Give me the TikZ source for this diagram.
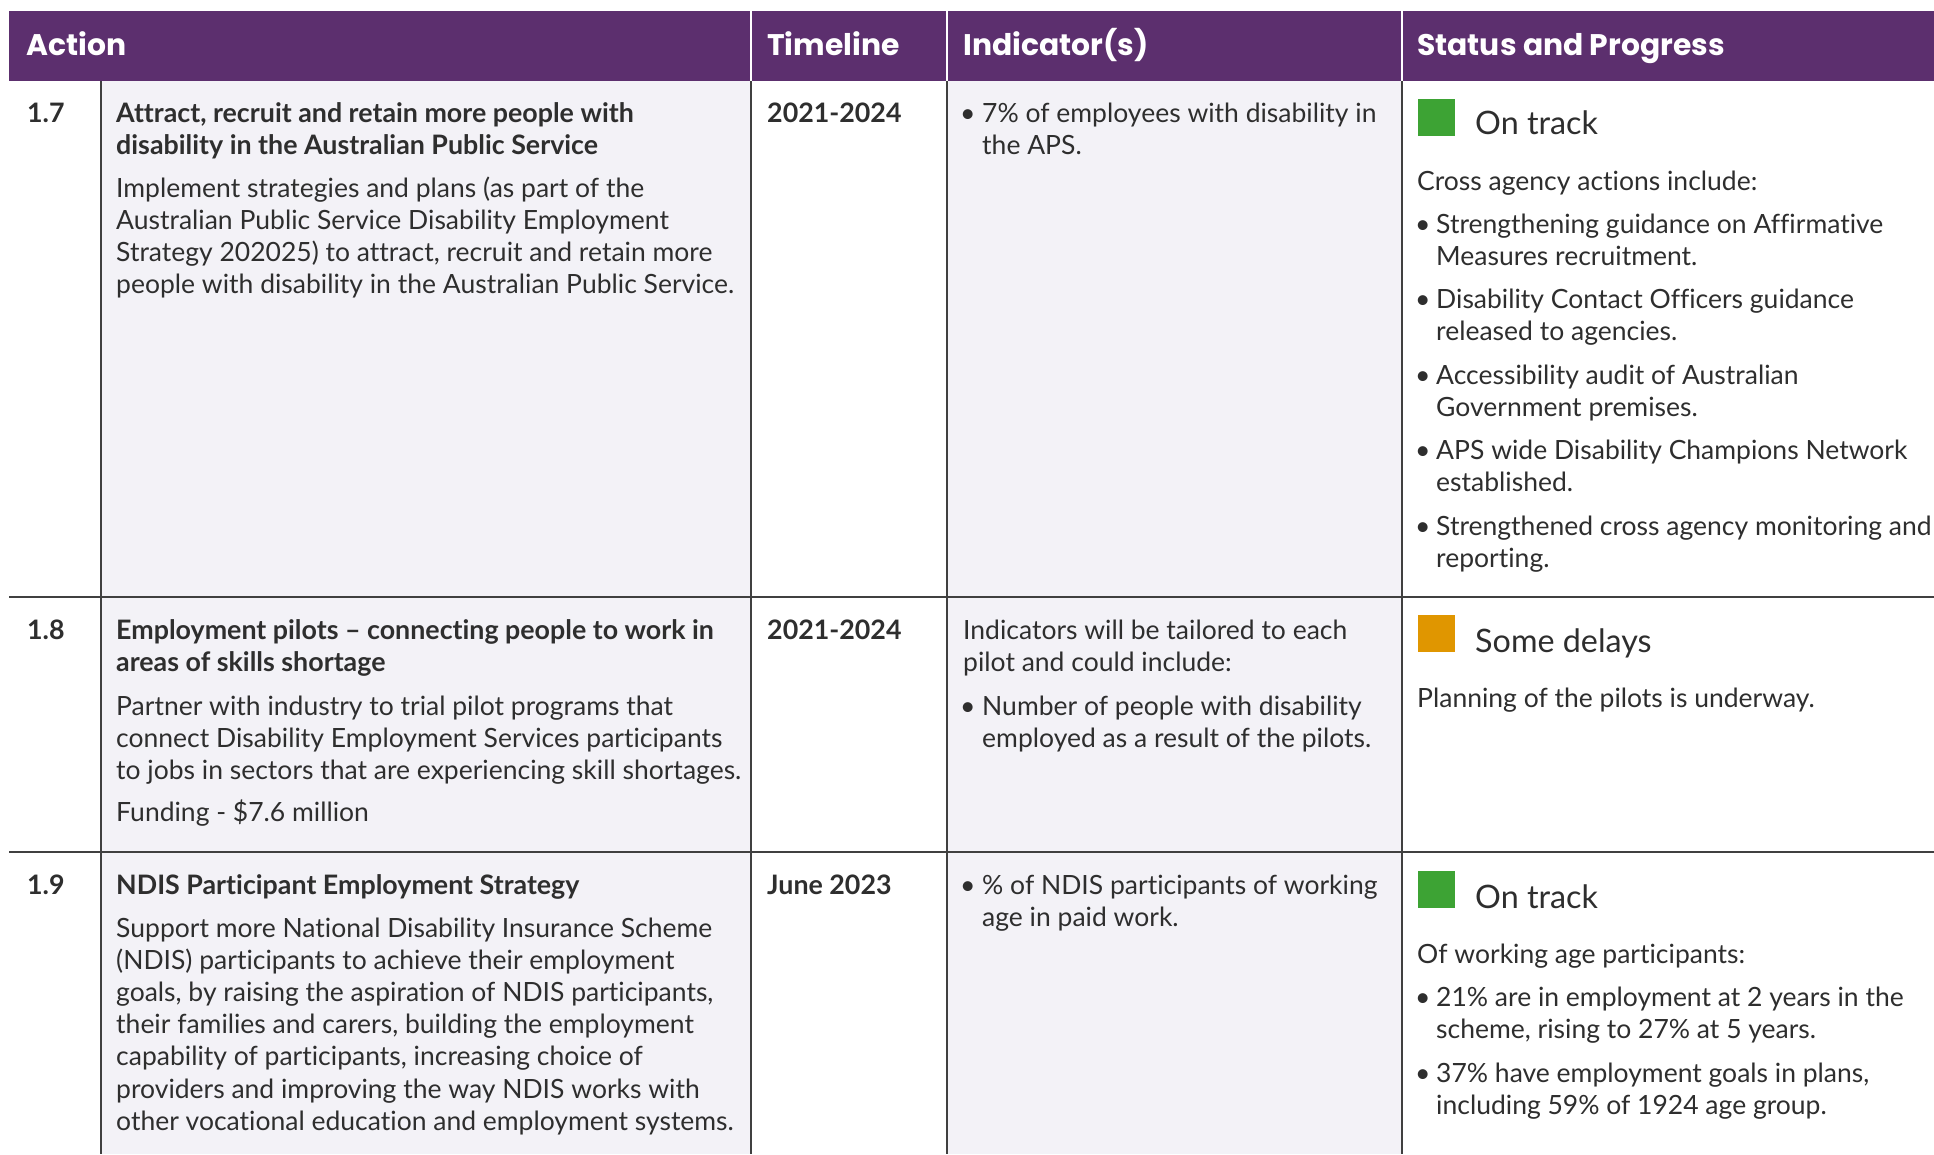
\documentclass[tikz,border=0pt]{standalone}
\usepackage{fontspec}
\setmainfont{Lato}[Ligatures=NoCommon]
\newfontfamily\headfont{Poppins}
\definecolor{hdr}{HTML}{5C2F6E}
\definecolor{cellshade}{HTML}{F3F2F7}
\definecolor{ink}{HTML}{2E2E2E}
\definecolor{rule}{HTML}{404040}
\definecolor{ongreen}{HTML}{3DA334}
\definecolor{delay}{HTML}{E09600}
\tikzset{
  txt/.style={font=\fontsize{26.5}{32}\selectfont, text=ink, inner sep=0pt, anchor=base west},
  txtb/.style={txt, font=\fontsize{26.8}{32}\selectfont\bfseries},
  head/.style={font=\headfont\bfseries\fontsize{29.8}{34}\selectfont, text=white, inner sep=0pt, anchor=base west},
  stat/.style={txt, font=\fontsize{32.3}{36}\selectfont},
  gridline/.style={draw=rule, line width=1.5pt},
  hsep/.style={draw=white, line width=1.5pt},
}
\newcommand\txtlines[5]{%
  \foreach \t [count=\i] in {#5}{\node[#1] (#2-\i) at (#3,{#4+(\i-1)*32.2}) {\t};}}
\begin{document}
\begin{tikzpicture}[x=1pt,y=-1pt]
\useasboundingbox (0,0) rectangle (1934,1154);
\fill[white] (0,0) rectangle (1934,1154);
% shaded columns
\fill[cellshade] (101,81) rectangle (751,1154);
\fill[cellshade] (947,81) rectangle (1402,1154);
% header
\fill[hdr] (9,11) rectangle (1934,81);
\foreach \x in {751,947,1402}{\draw[hsep] (\x,11) -- (\x,81);}
\node[head] (hAction) at (26,55) {Action};
\node[head] (hTime) at (767,55) {Timeline};
\node[head] (hInd) at (963,55) {Indicator(s)};
\node[head] (hStat) at (1417,55) {Status and Progress};
% grid
\foreach \x in {101,751,947,1402}{\draw[gridline] (\x,81) -- (\x,1154);}
\foreach \y in {597,852}{\draw[gridline] (9,\y) -- (1934,\y);}

% ---------- Row 1.7
\node[txtb] (n17) at (27,122) {1.7};
\txtlines{txtb}{t17}{116}{122}{{Attract, recruit and retain more people with},{disability in the Australian Public Service}}
\txtlines{txt}{b17}{116}{197}{{Implement strategies and plans (as part of the},{Australian Public Service Disability Employment},{Strategy 202025) to attract, recruit and retain more},{people with disability in the Australian Public Service.}}
\node[txtb] (d17) at (767,122) {2021-2024};
\node[txt] (ib17) at (960,122) {•};
\txtlines{txt}{i17}{982}{122}{{7\% of employees with disability in},{the APS.}}
\fill[ongreen] (1418,99) rectangle (1455,136);
\node[stat] (s17) at (1475,134) {On track};
\node[txt] (c17) at (1417,190) {Cross agency actions include:};
\foreach \y/\a/\b [count=\k] in {233/{Strengthening guidance on Affirmative}/{Measures recruitment.},
  308/{Disability Contact Officers guidance}/{released to agencies.},
  384/{Accessibility audit of Australian}/{Government premises.},
  459/{APS wide Disability Champions Network}/{established.},
  535/{Strengthened cross agency monitoring and}/{reporting.}}{
  \node[txt] (pb17-\k) at (1415,\y) {•};
  \node[txt] (pa17-\k) at (1436,\y) {\a};
  \node[txt] (pc17-\k) at (1436,{\y+32.2}) {\b};
}

% ---------- Row 1.8
\node[txtb] (n18) at (27,639) {1.8};
\txtlines{txtb}{t18}{116}{639}{{Employment pilots – connecting people to work in},{areas of skills shortage}}
\txtlines{txt}{b18}{116}{715}{{Partner with industry to trial pilot programs that},{connect Disability Employment Services participants},{to jobs in sectors that are experiencing skill shortages.}}
\node[txt] (f18) at (116,821) {Funding - \$7.6 million};
\node[txtb] (d18) at (767,639) {2021-2024};
\txtlines{txt}{i18}{963}{639}{{Indicators will be tailored to each},{pilot and could include:}}
\node[txt] (ib18) at (960,715) {•};
\txtlines{txt}{j18}{982}{715}{{Number of people with disability},{employed as a result of the pilots.}}
\fill[delay] (1418,615) rectangle (1455,652);
\node[stat] (s18) at (1475,652) {Some delays};
\node[txt] (c18) at (1417,707) {Planning of the pilots is underway.};

% ---------- Row 1.9
\node[txtb] (n19) at (27,894) {1.9};
\node[txtb] (t19) at (116,894) {NDIS Participant Employment Strategy};
\txtlines{txt}{b19}{116}{937}{{Support more National Disability Insurance Scheme},{(NDIS) participants to achieve their employment},{goals, by raising the aspiration of NDIS participants,},{their families and carers, building the employment},{capability of participants, increasing choice of},{providers and improving the way NDIS works with},{other vocational education and employment systems.}}
\node[txtb] (d19) at (767,894) {June 2023};
\node[txt] (ib19) at (960,894) {•};
\txtlines{txt}{i19}{982}{894}{{\% of NDIS participants of working},{age in paid work.}}
\fill[ongreen] (1418,871) rectangle (1455,908);
\node[stat] (s19) at (1475,908) {On track};
\node[txt] (c19) at (1417,963) {Of working age participants:};
\foreach \y/\a/\b [count=\k] in {1006/{21\% are in employment at 2 years in the}/{scheme, rising to 27\% at 5 years.},
  1082/{37\% have employment goals in plans,}/{including 59\% of 1924 age group.}}{
  \node[txt] (pb19-\k) at (1415,\y) {•};
  \node[txt] (pa19-\k) at (1436,\y) {\a};
  \node[txt] (pc19-\k) at (1436,{\y+32.2}) {\b};
}
\end{tikzpicture}
\end{document}
